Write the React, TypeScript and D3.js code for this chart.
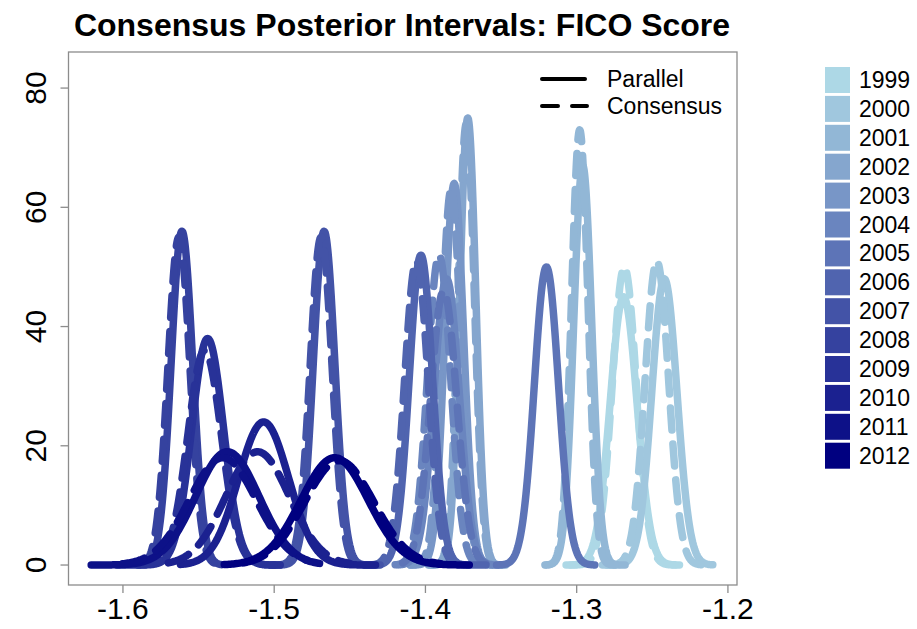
import { useEffect, useRef } from "react";
import * as d3 from "d3";

// data: one density per year for each method
const years = [1999, 2000, 2001, 2002, 2003, 2004, 2005, 2006, 2007, 2008, 2009, 2010, 2011, 2012];

// parallel (solid)
const parMean = [-1.269, -1.242, -1.296, -1.372, -1.381, -1.386, -1.32, -1.403, -1.467, -1.561, -1.544, -1.507, -1.531, -1.46];
const parPeak = [45, 48, 67, 75, 64, 48, 50, 52, 56, 56, 38, 24, 19, 18];
const parLo = [-1.307, -1.283, -1.321, -1.398, -1.41, -1.418, -1.353, -1.436, -1.5, -1.579, -1.604, -1.562, -1.621, -1.533];
const parHi = [-1.232, -1.21, -1.268, -1.347, -1.352, -1.356, -1.288, -1.36, -1.43, -1.535, -1.496, -1.433, -1.478, -1.371];

// consensus (dashed)
const conMean = [-1.2685, -1.247, -1.298, -1.373, -1.383, -1.391, -1.388, -1.406, -1.469, -1.563, -1.546, -1.511, -1.534, -1.457];
const conPeak = [50, 51, 73, 74, 63, 52, 46, 51, 55, 55, 36, 19, 18, 17.5];
const conLo = [-1.304, -1.28, -1.32, -1.397, -1.41, -1.42, -1.415, -1.44, -1.502, -1.588, -1.59, -1.57, -1.6, -1.52];
const conHi = [-1.235, -1.213, -1.27, -1.35, -1.355, -1.362, -1.36, -1.37, -1.435, -1.54, -1.5, -1.45, -1.47, -1.39];

const xTicks = [-1.6, -1.5, -1.4, -1.3, -1.2];
const yTicks = [0, 20, 40, 60, 80];

const W = 917;
const H = 629;
const m = { left: 68.5, right: 737, top: 52, bottom: 585 };
const FONT = "'Liberation Sans', Arial, Helvetica, sans-serif";

export default function App() {
  const ref = useRef<SVGSVGElement>(null);

  useEffect(() => {
    if (!ref.current) return;
    const svg = d3.select(ref.current);
    svg.selectAll("*").remove();

    const x = d3.scaleLinear().domain([-1.636, -1.194]).range([m.left, m.right]);
    const y = d3.scaleLinear().domain([-3.35, 86.05]).range([m.bottom, m.top]);
    const color = (i: number) => d3.interpolateRgb("lightblue", "navy")(i / (years.length - 1));

    svg.append("rect").attr("width", W).attr("height", H).attr("fill", "#fff");

    // title
    svg
      .append("text")
      .attr("x", 402)
      .attr("y", 36)
      .attr("text-anchor", "middle")
      .attr("font-family", FONT)
      .attr("font-weight", "bold")
      .attr("font-size", 32)
      .text("Consensus Posterior Intervals: FICO Score");

    // density curves
    const line = d3
      .line<[number, number]>()
      .x((d) => x(d[0]))
      .y((d) => y(d[1]));

    const density = (mu: number, peak: number, lo: number, hi: number) => {
      const sd = 1 / (peak * Math.sqrt(2 * Math.PI));
      const pts: [number, number][] = [];
      const n = 160;
      for (let k = 0; k <= n; k++) {
        const v = lo + ((hi - lo) * k) / n;
        pts.push([v, peak * Math.exp(-0.5 * ((v - mu) / sd) ** 2)]);
      }
      return pts;
    };

    const curves = svg.append("g").attr("fill", "none").attr("stroke-width", 7.5)
      .attr("stroke-linecap", "round").attr("stroke-linejoin", "round");

    years.forEach((_, i) => {
      curves
        .append("path")
        .attr("d", line(density(parMean[i], parPeak[i], parLo[i], parHi[i])))
        .attr("stroke", color(i));
      curves
        .append("path")
        .attr("d", line(density(conMean[i], conPeak[i], conLo[i], conHi[i])))
        .attr("stroke", color(i))
        .attr("stroke-dasharray", "22 14");
    });

    // box
    svg
      .append("rect")
      .attr("x", m.left)
      .attr("y", m.top)
      .attr("width", m.right - m.left)
      .attr("height", m.bottom - m.top)
      .attr("fill", "none")
      .attr("stroke", "#8c8c8c")
      .attr("stroke-width", 1.3);

    // x axis
    const xa = svg.append("g");
    xa.selectAll("line")
      .data(xTicks)
      .join("line")
      .attr("x1", (d) => x(d))
      .attr("x2", (d) => x(d))
      .attr("y1", m.bottom)
      .attr("y2", m.bottom + 8)
      .attr("stroke", "#8c8c8c")
      .attr("stroke-width", 1.3);
    xa.selectAll("text")
      .data(xTicks)
      .join("text")
      .attr("x", (d) => x(d))
      .attr("y", 619)
      .attr("text-anchor", "middle")
      .attr("font-family", FONT)
      .attr("font-size", 30)
      .text((d) => d3.format(".1f")(d).replace("−", "-"));

    // y axis
    const ya = svg.append("g");
    ya.selectAll("line")
      .data(yTicks)
      .join("line")
      .attr("x1", m.left - 8)
      .attr("x2", m.left)
      .attr("y1", (d) => y(d))
      .attr("y2", (d) => y(d))
      .attr("stroke", "#8c8c8c")
      .attr("stroke-width", 1.3);
    ya.selectAll("text")
      .data(yTicks)
      .join("text")
      .attr("transform", (d) => `translate(46,${y(d)}) rotate(-90)`)
      .attr("text-anchor", "middle")
      .attr("font-family", FONT)
      .attr("font-size", 30)
      .text((d) => d);

    // method legend inside the plot
    const lg = svg.append("g").attr("font-family", FONT).attr("font-size", 23);
    lg.append("line").attr("x1", 542).attr("x2", 585).attr("y1", 79).attr("y2", 79)
      .attr("stroke", "#000").attr("stroke-width", 4).attr("stroke-linecap", "round");
    lg.append("line").attr("x1", 542).attr("x2", 587).attr("y1", 106).attr("y2", 106)
      .attr("stroke", "#000").attr("stroke-width", 4).attr("stroke-linecap", "round")
      .attr("stroke-dasharray", "16 14");
    lg.append("text").attr("x", 607).attr("y", 87).text("Parallel");
    lg.append("text").attr("x", 607).attr("y", 114).text("Consensus");

    // year legend
    const yl = svg.append("g").attr("font-family", FONT).attr("font-size", 23);
    yl.selectAll("rect")
      .data(years)
      .join("rect")
      .attr("x", 825)
      .attr("y", (_, i) => 67 + i * 28.9)
      .attr("width", 25)
      .attr("height", 26)
      .attr("fill", (_, i) => color(i));
    yl.selectAll("text")
      .data(years)
      .join("text")
      .attr("x", 859)
      .attr("y", (_, i) => 88 + i * 28.9)
      .text((d) => d);
  }, []);

  return (
    <svg
      ref={ref}
      width={W}
      height={H}
      style={{ position: "absolute", left: 0, top: 0 }}
    />
  );
}
